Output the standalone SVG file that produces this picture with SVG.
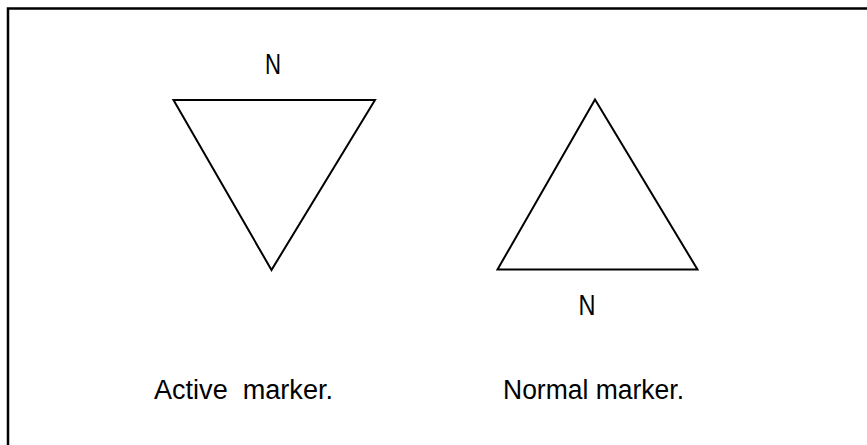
<svg xmlns="http://www.w3.org/2000/svg" width="867" height="445" viewBox="0 0 867 445">
<style>
.frame{fill:none;stroke:#000;stroke-width:2.5}
.tri{fill:none;stroke:#000;stroke-width:2;stroke-linejoin:miter}
.lbl{font-family:"Liberation Sans",Arial,Helvetica,sans-serif;font-size:27px;fill:#000}
.n{font-family:"Liberation Sans",Arial,Helvetica,sans-serif;font-size:29px;fill:#000}
</style>
<rect width="867" height="445" fill="#fff"/>
<path class="frame" d="M8,445 V8.5 H867"/>
<g id="active-marker">
<polygon class="tri" points="173.5,100 375,100 271.5,270"/>
<text class="n" x="273" y="74" text-anchor="middle" textLength="16" lengthAdjust="spacingAndGlyphs">N</text>
<text class="lbl" x="154" y="399" textLength="179" lengthAdjust="spacingAndGlyphs" xml:space="preserve">Active  marker.</text>
</g>
<g id="normal-marker">
<polygon class="tri" points="595,99.5 697.5,269.5 497.5,269.5"/>
<text class="n" x="587" y="315" text-anchor="middle" textLength="17" lengthAdjust="spacingAndGlyphs">N</text>
<text class="lbl" x="503" y="399" textLength="181" lengthAdjust="spacingAndGlyphs">Normal marker.</text>
</g>
<g id="connectors"/>
</svg>
